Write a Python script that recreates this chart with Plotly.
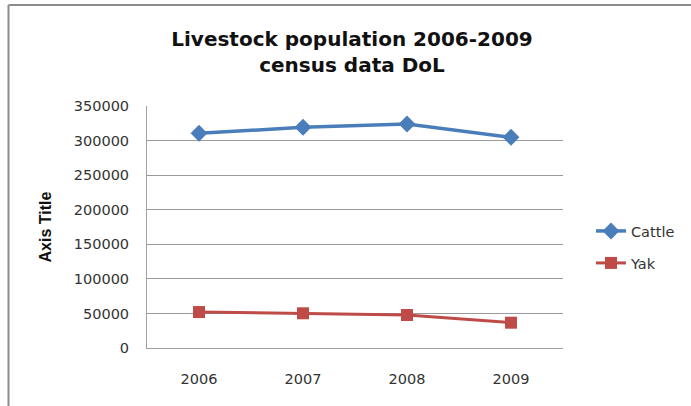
import plotly.graph_objects as go

years = ["2006", "2007", "2008", "2009"]
cattle = [310500, 319200, 324000, 304700]
yak = [52000, 50200, 47700, 36600]
y_ticks = [0, 50000, 100000, 150000, 200000, 250000, 300000, 350000]

W, H = 691, 406
L, R, T, B = 147, 563, 106, 348

BLUE = "#4A7EBB"
RED = "#BE4B48"
FONT = "DejaVu Sans"

fig = go.Figure()
fig.add_trace(go.Scatter(x=years, y=cattle, name="Cattle", mode="lines+markers",
                         line=dict(color=BLUE, width=3.5),
                         marker=dict(symbol="diamond", size=13, color=BLUE),
                         legend="legend"))
fig.add_trace(go.Scatter(x=years, y=yak, name="Yak", mode="lines+markers",
                         line=dict(color=RED, width=3),
                         marker=dict(symbol="square", size=12, color=RED),
                         legend="legend2"))

def px_x(p):
    return (p - L) / (R - L)

def px_y(p):
    return (B - p) / (B - T)

fig.update_layout(
    width=W, height=H,
    margin=dict(l=L, r=W - R, t=T, b=H - B, autoexpand=False),
    paper_bgcolor="white", plot_bgcolor="white",
    font=dict(family=FONT, size=14.5, color="#333333"),
    title=dict(text="<b>Livestock population 2006-2009<br>census data DoL</b>",
               x=px_x(352), xref="paper", xanchor="center",
               y=1 - 46 / H, yref="container", yanchor="middle",
               font=dict(family=FONT, size=20, color="#111111")),
    xaxis=dict(type="category", range=[-0.5, 3.5], showgrid=False,
               showline=True, linecolor="#A0A0A0", linewidth=1,
               ticks="", ticklabelstandoff=18, tickfont=dict(size=14.5, color="#333333"),
               zeroline=False, fixedrange=True),
    yaxis=dict(range=[0, 350000], tickvals=y_ticks, tickformat="d",
               showgrid=True, gridcolor="#9A9A9A", gridwidth=1,
               showline=True, linecolor="#A0A0A0", linewidth=1,
               zeroline=False, ticks="", ticklabelstandoff=14,
               tickfont=dict(size=14.5, color="#333333"),
               title=dict(text="<b>Axis Title</b>", standoff=18,
                          font=dict(family="Liberation Sans", size=16, color="#111111"))),
    legend=dict(x=px_x(591), y=px_y(231), xanchor="left", yanchor="middle",
                font=dict(size=14.5, color="#333333"), bgcolor="rgba(0,0,0,0)",
                itemwidth=30),
    legend2=dict(x=px_x(591), y=px_y(263), xanchor="left", yanchor="middle",
                 font=dict(size=14.5, color="#333333"), bgcolor="rgba(0,0,0,0)",
                 itemwidth=30),
    showlegend=True,
    shapes=[
        dict(type="line", xref="paper", yref="paper",
             x0=px_x(8.5), x1=px_x(W + 5), y0=px_y(5), y1=px_y(5),
             line=dict(color="#8C8C8C", width=2)),
        dict(type="line", xref="paper", yref="paper",
             x0=px_x(8.5), x1=px_x(8.5), y0=px_y(5), y1=px_y(H + 5),
             line=dict(color="#8C8C8C", width=2)),
    ],
)

fig.write_html("out.html", config={"displayModeBar": False},
               post_script="document.body.style.margin='0';")
